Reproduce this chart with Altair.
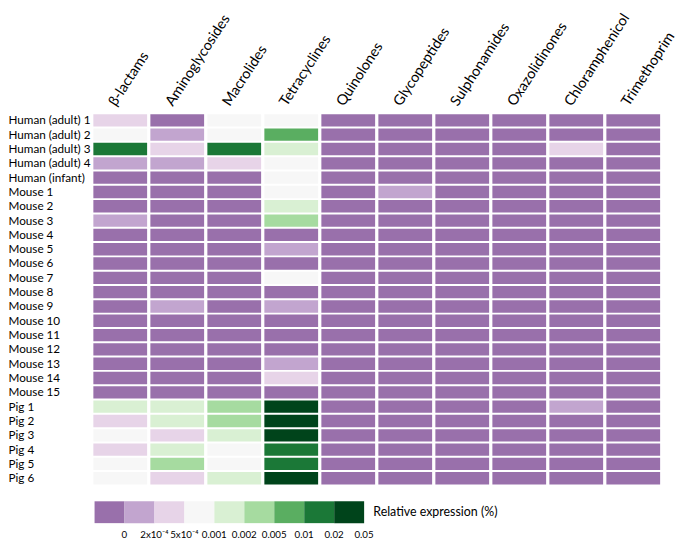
import altair as alt
import pandas as pd

samples = ["Human (adult) 1", "Human (adult) 2", "Human (adult) 3", "Human (adult) 4",
           "Human (infant)"] + [f"Mouse {i}" for i in range(1, 16)] + [f"Pig {i}" for i in range(1, 7)]

antibiotics = ["β-lactams", "Aminoglycosides", "Macrolides", "Tetracyclines", "Quinolones",
               "Glycopeptides", "Sulphonamides", "Oxazolidinones", "Chloramphenicol", "Trimethoprim"]

# colour-bin level (0..8) per sample, for each antibiotic class
beta_lactams = [2, 3, 7, 1, 0, 0, 0, 1, 0, 0, 0, 0, 0, 0, 0, 0, 0, 0, 0, 0, 4, 2, 3, 2, 3, 3]
aminoglycosides = [0, 1, 2, 1, 0, 0, 0, 0, 0, 0, 0, 0, 0, 1, 0, 0, 0, 0, 0, 0, 4, 4, 2, 4, 5, 2]
macrolides = [3, 3, 7, 2, 0, 0, 0, 0, 0, 0, 0, 0, 0, 0, 0, 0, 0, 0, 0, 0, 5, 5, 4, 3, 3, 4]
tetracyclines = [3, 6, 4, 3, 3, 3, 4, 5, 0, 1, 0, 3, 0, 1, 0, 0, 0, 1, 2, 0, 8, 8, 8, 7, 7, 8]
quinolones = [0] * 26
glycopeptides = [0, 0, 0, 0, 0, 1, 0, 0, 0, 0, 0, 0, 0, 0, 0, 0, 0, 0, 0, 0, 0, 0, 0, 0, 0, 0]
sulphonamides = [0] * 26
oxazolidinones = [0] * 26
chloramphenicol = [0, 0, 2, 0, 0, 0, 0, 0, 0, 0, 0, 0, 0, 0, 0, 0, 0, 0, 0, 0, 1, 0, 0, 0, 0, 0]
trimethoprim = [0] * 26

levels = [0, 1, 2, 3, 4, 5, 6, 7, 8]
level_labels = ["0", "2x10⁻⁴", "5x10⁻⁴", "0.001", "0.002", "0.005", "0.01", "0.02", "0.05"]
palette = ["#9970ab", "#c2a5cf", "#e7d4e8", "#f7f7f7", "#d9f0d3", "#a6dba0", "#5aae61", "#1b7837", "#00441b"]

columns = [beta_lactams, aminoglycosides, macrolides, tetracyclines, quinolones,
           glycopeptides, sulphonamides, oxazolidinones, chloramphenicol, trimethoprim]

rows = []
for ab, vals in zip(antibiotics, columns):
    for s, v in zip(samples, vals):
        rows.append({"antibiotic": ab, "sample": s, "level": v})
df = pd.DataFrame(rows)

FONT = "Lato"

color_scale = alt.Scale(domain=levels, range=palette)

heat = alt.Chart(df).mark_rect().encode(
    x=alt.X("antibiotic:N", sort=antibiotics,
            scale=alt.Scale(paddingInner=0.057, paddingOuter=0),
            axis=alt.Axis(orient="top", title=None, labelAngle=-57, labelAlign="left",
                          labelBaseline="bottom", ticks=False, domain=False, labelPadding=6,
                          labelFontSize=14.5, labelFont=FONT, labelColor="black", labelOffset=-2)),
    y=alt.Y("sample:N", sort=samples,
            scale=alt.Scale(paddingInner=0.137, paddingOuter=0),
            axis=alt.Axis(title=None, ticks=False, domain=False, labelAlign="left",
                          labelPadding=86, labelFontSize=11.8, labelFont=FONT, labelColor="black")),
    color=alt.Color("level:O", scale=color_scale, legend=None),
).properties(width=571, height=373)

leg_df = pd.DataFrame({"label": level_labels, "level": levels})

leg_rects = alt.Chart(leg_df).mark_rect().encode(
    x=alt.X("label:N", sort=level_labels,
            scale=alt.Scale(paddingInner=0, paddingOuter=0.04),
            axis=alt.Axis(orient="bottom", title=None, ticks=False, domain=False, labelAngle=0,
                          labelPadding=6, labelOffset=15, labelFontSize=9.8, labelFont=FONT,
                          labelColor="black")),
    color=alt.Color("level:O", scale=color_scale, legend=None),
)

leg_title = alt.Chart(pd.DataFrame({"t": ["Relative expression (%)"]})).mark_text(
    align="left", baseline="middle", fontSize=12.5, font=FONT, color="black"
).encode(text="t:N", x=alt.value(282), y=alt.value(11))

legend = alt.layer(leg_rects, leg_title).properties(width=274, height=22)

chart = alt.vconcat(heat, legend, spacing=17, bounds="flush").configure_view(
    stroke=None
).properties(padding=0)

chart.save("out.html", embed_options={"renderer": "svg", "actions": False})
